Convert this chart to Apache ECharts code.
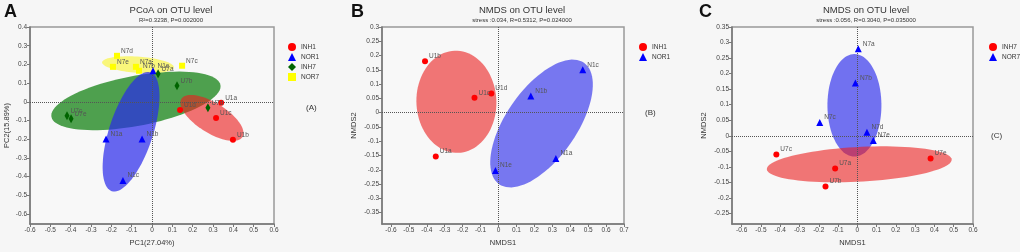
<!DOCTYPE html>
<html>
<head>
<meta charset="utf-8">
<script src="https://cdn.jsdelivr.net/npm/echarts@6/dist/echarts.min.js"></script>
<style>
  html, body { margin: 0; padding: 0; background: #f6f6f6; }
  #chart { width: 1020px; height: 252px; }
</style>
</head>
<body>
<div id="chart"></div>
<script>
// points: [x, y, sample]
var pcoaINH1 = [[0.34, -0.005, 'U1a'], [0.398, -0.203, 'U1b'], [0.315, -0.086, 'U1c'], [0.138, -0.043, 'U1d']];
var pcoaNOR1 = [[-0.226, -0.198, 'N1a'], [-0.049, -0.198, 'N1b'], [-0.143, -0.42, 'N1c'], [0.005, 0.166, 'N1e']];
var pcoaINH7 = [[0.03, 0.15, 'U7a'], [0.123, 0.086, 'U7b'], [-0.418, -0.075, 'U7c'], [0.275, -0.032, 'U7d'], [-0.398, -0.091, 'U7e']];
var pcoaNOR7 = [[-0.079, 0.187, 'N7a'], [-0.064, 0.166, 'N7b'], [0.148, 0.193, 'N7c'], [-0.172, 0.246, 'N7d'], [-0.192, 0.187, 'N7e']];

var nmds1INH1 = [[-0.35, -0.154, 'U1a'], [-0.41, 0.18, 'U1b'], [-0.134, 0.052, 'U1c'], [-0.04, 0.067, 'U1d']];
var nmds1NOR1 = [[0.32, -0.161, 'N1a'], [0.18, 0.058, 'N1b'], [0.47, 0.15, 'N1c'], [-0.017, -0.203, 'N1e']];

var nmds7INH7 = [[-0.115, -0.105, 'U7a'], [-0.165, -0.163, 'U7b'], [-0.42, -0.06, 'U7c'], [0.38, -0.073, 'U7e']];
var nmds7NOR7 = [[0.005, 0.28, 'N7a'], [-0.01, 0.17, 'N7b'], [-0.195, 0.043, 'N7c'], [0.05, 0.011, 'N7d'], [0.083, -0.015, 'N7e']];

// confidence ellipses: [cx, cy, semi-major, semi-minor (x units), angle deg]
var ellA_INH7 = [-0.079, 0.005, 0.423, 0.123, 10.7];
var ellA_NOR7 = [-0.069, 0.198, 0.177, 0.04, -4];
var ellA_NOR1 = [-0.103, -0.16, 0.307, 0.108, 72];
var ellA_INH1 = [0.295, -0.086, 0.177, 0.074, -32];
var ellB_INH1 = [-0.235, 0.038, 0.285, 0.223, 92];
var ellB_NOR1 = [0.24, -0.038, 0.413, 0.196, 55];
var ellC_NOR7 = [-0.015, 0.098, 0.266, 0.14, 90];
var ellC_INH7 = [0.01, -0.092, 0.48, 0.09, 3];

// tick labels
var ticksAx = [-0.6, -0.5, -0.4, -0.3, -0.2, -0.1, 0, 0.1, 0.2, 0.3, 0.4, 0.5, 0.6];
var ticksAy = [-0.6, -0.5, -0.4, -0.3, -0.2, -0.1, 0, 0.1, 0.2, 0.3, 0.4];
var ticksBx = [-0.6, -0.5, -0.4, -0.3, -0.2, -0.1, 0, 0.1, 0.2, 0.3, 0.4, 0.5, 0.6, 0.7];
var ticksBy = [-0.35, -0.3, -0.25, -0.2, -0.15, -0.1, -0.05, 0, 0.05, 0.1, 0.15, 0.2, 0.25, 0.3];
var ticksCx = [-0.6, -0.5, -0.4, -0.3, -0.2, -0.1, 0, 0.1, 0.2, 0.3, 0.4, 0.5, 0.6];
var ticksCy = [-0.25, -0.2, -0.15, -0.1, -0.05, 0, 0.05, 0.1, 0.15, 0.2, 0.25, 0.3, 0.35];

var RED = '#ff0000', BLUE = '#0000ff', GREEN = '#006400', YELLOW = '#ffff00';

var myChart = echarts.init(document.getElementById('chart'));

function fmt(v) { return String(Math.round(v * 100) / 100); }

function xAx(idx, min, max, ticks, name) {
    return {
        type: 'value', gridIndex: idx, min: min, max: max,
        name: name, nameLocation: 'middle', nameGap: 13,
        nameTextStyle: { fontSize: 7.5, color: '#333' },
        axisLine: { onZero: false, lineStyle: { color: '#777', width: 1.5 } },
        axisTick: { length: 3, lineStyle: { color: '#777' }, customValues: ticks },
        axisLabel: { fontSize: 6.5, color: '#444', margin: 3, customValues: ticks, formatter: fmt },
        splitLine: { show: false }
    };
}
function yAx(idx, min, max, ticks, name, gap) {
    return {
        type: 'value', gridIndex: idx, min: min, max: max,
        name: name, nameLocation: 'middle', nameGap: gap,
        nameTextStyle: { fontSize: 7.5, color: '#333' },
        axisLine: { onZero: false, lineStyle: { color: '#777', width: 1.5 } },
        axisTick: { length: 3, lineStyle: { color: '#777' }, customValues: ticks },
        axisLabel: { fontSize: 6.5, color: '#444', margin: 3, customValues: ticks, formatter: fmt },
        splitLine: { show: false }
    };
}

function ellipse(idx, e, color, z) {
    return {
        type: 'custom', name: 'ell' + idx + z, xAxisIndex: idx, yAxisIndex: idx, silent: true, z: z,
        data: [e],
        renderItem: function (params, api) {
            var c = api.coord([api.value(0), api.value(1)]);
            var u = api.size([1, 1])[0];
            var a = api.value(2) * u, b = api.value(3) * u, r = api.value(4) * Math.PI / 180;
            var pts = [];
            for (var i = 0; i < 90; i++) {
                var t = i / 90 * 2 * Math.PI;
                var ex = a * Math.cos(t), ey = b * Math.sin(t);
                pts.push([c[0] + ex * Math.cos(r) - ey * Math.sin(r), c[1] - (ex * Math.sin(r) + ey * Math.cos(r))]);
            }
            return { type: 'polygon', shape: { points: pts }, style: { fill: color } };
        }
    };
}

function points(idx, name, arr, symbol, size, color) {
    return {
        type: 'scatter', name: name, xAxisIndex: idx, yAxisIndex: idx, z: 10,
        symbol: symbol, symbolSize: size, itemStyle: { color: color, opacity: 1 },
        data: arr.map(function (d) { return { value: [d[0], d[1]], name: d[2] }; }),
        label: { show: true, formatter: '{b}', position: 'right', distance: 1, offset: [0, -5], fontSize: 6.5, color: '#555' }
    };
}

function zeroLines(idx) {
    return {
        type: 'scatter', name: 'zero' + idx, xAxisIndex: idx, yAxisIndex: idx, data: [], z: 3,
        markLine: {
            silent: true, symbol: 'none', label: { show: false },
            lineStyle: { type: 'dotted', color: '#555', width: 1 },
            data: [{ xAxis: 0 }, { yAxis: 0 }]
        }
    };
}

function legend(left, items) {
    return {
        orient: 'vertical', left: left, top: 38, itemWidth: 8, itemHeight: 8, itemGap: 2,
        textStyle: { fontSize: 6.5, color: '#333' }, data: items, selectedMode: false
    };
}

var titleStyle = { fontSize: 9.5, fontWeight: 'normal', color: '#333', fontFamily: 'Liberation Sans' };
var subStyle = { fontSize: 6, color: '#333', fontFamily: 'Liberation Sans' };
var letterStyle = { fontSize: 18, fontWeight: 'bold', color: '#111', fontFamily: 'Liberation Sans' };
var tagStyle = { fontSize: 8, fontWeight: 'normal', color: '#333', fontFamily: 'Liberation Sans' };

option = {
    backgroundColor: '#f6f6f6',
    textStyle: { fontFamily: 'Liberation Sans' },
    animation: false,
    title: [
        { text: 'A', left: 4, top: 3, padding: 0, textStyle: letterStyle },
        { text: 'B', left: 351, top: 3, padding: 0, textStyle: letterStyle },
        { text: 'C', left: 699, top: 3, padding: 0, textStyle: letterStyle },
        { text: 'PCoA on OTU level', subtext: 'R²=0.3238, P=0.002000', left: 171, top: 5, padding: 0, itemGap: 2, textAlign: 'center', textStyle: titleStyle, subtextStyle: subStyle },
        { text: 'NMDS on OTU level', subtext: 'stress :0.034, R=0.5312, P=0.024000', left: 522, top: 5, padding: 0, itemGap: 2, textAlign: 'center', textStyle: titleStyle, subtextStyle: subStyle },
        { text: 'NMDS on OTU level', subtext: 'stress :0.056, R=0.3040, P=0.035000', left: 866, top: 5, padding: 0, itemGap: 2, textAlign: 'center', textStyle: titleStyle, subtextStyle: subStyle },
        { text: '(A)', left: 306, top: 104, padding: 0, textStyle: tagStyle },
        { text: '(B)', left: 645, top: 109, padding: 0, textStyle: tagStyle },
        { text: '(C)', left: 991, top: 132, padding: 0, textStyle: tagStyle }
    ],
    legend: [
        legend(283, [
            { name: 'INH1', icon: 'circle', itemStyle: { color: RED } },
            { name: 'NOR1', icon: 'triangle', itemStyle: { color: BLUE } },
            { name: 'INH7', icon: 'diamond', itemStyle: { color: GREEN } },
            { name: 'NOR7', icon: 'rect', itemStyle: { color: YELLOW } }
        ]),
        legend(634, [
            { name: 'INH1', icon: 'circle', itemStyle: { color: RED } },
            { name: 'NOR1', icon: 'triangle', itemStyle: { color: BLUE } }
        ]),
        legend(984, [
            { name: 'INH7', icon: 'circle', itemStyle: { color: RED } },
            { name: 'NOR7', icon: 'triangle', itemStyle: { color: BLUE } }
        ])
    ],
    grid: [
        { left: 30, top: 27, width: 244, height: 197, show: true, borderColor: '#999', borderWidth: 1.5, backgroundColor: '#f8f8f8' },
        { left: 382, top: 27, width: 242, height: 197, show: true, borderColor: '#999', borderWidth: 1.5, backgroundColor: '#f8f8f8' },
        { left: 732, top: 27, width: 241, height: 197, show: true, borderColor: '#999', borderWidth: 1.5, backgroundColor: '#f8f8f8' }
    ],
    xAxis: [
        xAx(0, -0.6, 0.6, ticksAx, 'PC1(27.04%)'),
        xAx(1, -0.65, 0.7, ticksBx, 'NMDS1'),
        xAx(2, -0.65, 0.6, ticksCx, 'NMDS1')
    ],
    yAxis: [
        yAx(0, -0.653, 0.4, ticksAy, 'PC2(15.89%)', 19),
        yAx(1, -0.39, 0.3, ticksBy, 'NMDS2', 24),
        yAx(2, -0.284, 0.35, ticksCy, 'NMDS2', 24)
    ],
    series: [
        ellipse(0, ellA_INH7, 'rgba(30,135,30,0.78)', 1),
        ellipse(0, ellA_NOR7, 'rgba(250,245,40,0.6)', 2),
        ellipse(0, ellA_NOR1, 'rgba(40,40,235,0.7)', 3),
        ellipse(0, ellA_INH1, 'rgba(235,30,30,0.62)', 4),
        ellipse(1, ellB_INH1, 'rgba(235,30,30,0.6)', 1),
        ellipse(1, ellB_NOR1, 'rgba(40,40,235,0.62)', 2),
        ellipse(2, ellC_NOR7, 'rgba(40,40,235,0.65)', 1),
        ellipse(2, ellC_INH7, 'rgba(235,30,30,0.6)', 2),
        zeroLines(0), zeroLines(1), zeroLines(2),
        points(0, 'INH1', pcoaINH1, 'circle', 6, RED),
        points(0, 'NOR1', pcoaNOR1, 'triangle', 7, BLUE),
        points(0, 'INH7', pcoaINH7, 'diamond', [5, 9], GREEN),
        points(0, 'NOR7', pcoaNOR7, 'rect', 6, YELLOW),
        points(1, 'INH1', nmds1INH1, 'circle', 6, RED),
        points(1, 'NOR1', nmds1NOR1, 'triangle', 7, BLUE),
        points(2, 'INH7', nmds7INH7, 'circle', 6, RED),
        points(2, 'NOR7', nmds7NOR7, 'triangle', 7, BLUE)
    ]
};

myChart.setOption(option);
</script>
</body>
</html>
